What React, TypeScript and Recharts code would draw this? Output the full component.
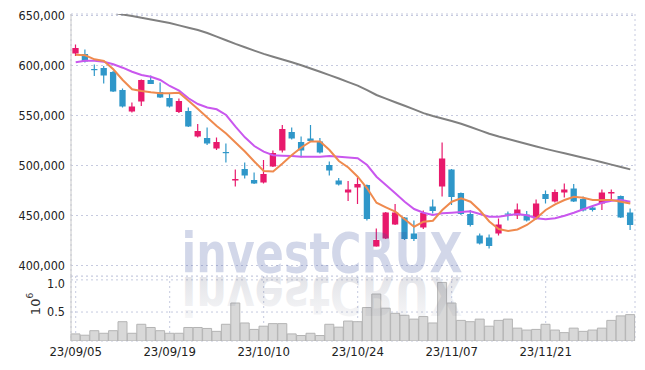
import React from 'react';
import { ComposedChart, Bar, Line, XAxis, YAxis, CartesianGrid } from 'recharts';

const dates = [
  '23/09/05', '23/09/06', '23/09/07', '23/09/08', '23/09/11', '23/09/12', '23/09/13', '23/09/14', '23/09/15', '23/09/18',
  '23/09/19', '23/09/20', '23/09/21', '23/09/22', '23/09/25', '23/09/26', '23/09/27', '23/10/04', '23/10/05', '23/10/06',
  '23/10/10', '23/10/11', '23/10/12', '23/10/13', '23/10/16', '23/10/17', '23/10/18', '23/10/19', '23/10/20', '23/10/23',
  '23/10/24', '23/10/25', '23/10/26', '23/10/27', '23/10/30', '23/10/31', '23/11/01', '23/11/02', '23/11/03', '23/11/06',
  '23/11/07', '23/11/08', '23/11/09', '23/11/10', '23/11/13', '23/11/14', '23/11/15', '23/11/16', '23/11/17', '23/11/20',
  '23/11/21', '23/11/22', '23/11/23', '23/11/24', '23/11/27', '23/11/28', '23/11/29', '23/11/30', '23/12/01', '23/12/04',
];

const opens = [
  612000, 611500, 596500, 597500, 593500, 575500, 554000, 564000, 585500, 573500,
  567500, 553500, 554500, 529000, 527500, 517000, 513500, 485000, 496500, 485500,
  483000, 499000, 515000, 533500, 523500, 527000, 524000, 500500, 485000, 473000,
  478000, 480500, 419000, 427000, 441000, 448000, 432000, 438000, 459000, 479000,
  496000, 472500, 451500, 430000, 428000, 432000, 452000, 450000, 451000, 447000,
  471500, 464000, 473000, 477000, 466500, 458000, 462000, 472000, 469500, 453000,
];
const highs = [
  621000, 616000, 601000, 599500, 594500, 577000, 563000, 586000, 590000, 583000,
  571500, 567000, 558000, 541500, 538000, 528000, 522000, 496000, 503000, 493000,
  505500, 515000, 540500, 538000, 529000, 540500, 527500, 504000, 487500, 484500,
  488000, 481000, 437000, 453500, 461500, 448500, 445000, 455000, 466000, 523000,
  496500, 473000, 455500, 432000, 431000, 447000, 454000, 462000, 454500, 466000,
  475000, 476000, 482000, 481500, 469000, 460500, 476000, 476000, 470000, 457000,
];
const lows = [
  609500, 603000, 589500, 582000, 573500, 558000, 553000, 559500, 581500, 567500,
  558000, 552500, 538500, 528000, 520500, 515500, 503000, 479000, 487000, 481500,
  482000, 498500, 513000, 526000, 508000, 524000, 512000, 490000, 480000, 464500,
  461500, 445000, 419000, 426500, 440500, 425500, 424500, 436500, 452000, 469000,
  460500, 450500, 439000, 421000, 417000, 430000, 445000, 446500, 444000, 446000,
  462000, 463000, 468000, 463500, 454000, 454000, 455500, 465500, 447500, 435500,
];
const closes = [
  617500, 604000, 596000, 590000, 574000, 559000, 559000, 585500, 581500, 568000,
  559000, 564500, 539000, 534500, 522000, 523500, 513000, 486500, 490000, 482000,
  491500, 512500, 536500, 527000, 515000, 524500, 513000, 495000, 481000, 476000,
  481500, 446500, 425500, 453000, 453000, 426500, 426500, 452500, 454500, 507000,
  468500, 451500, 440500, 422000, 419500, 441000, 451000, 456000, 445000, 462000,
  466500, 473500, 476000, 464000, 455000, 455500, 473000, 473500, 448000, 440500,
];

const ma5 = [
  610800, 610200, 606200, 604500, 596200, 585500, 576200, 574500, 573200, 572200,
  572200, 572800, 564800, 556500, 548000, 539500, 532000, 523000, 514000, 504000,
  494500, 494000, 502000, 510500, 518000, 524000, 524000, 515500, 504500, 498000,
  488800, 477200, 462800, 458200, 453800, 446200, 438800, 443800, 444800, 455500,
  463800, 467200, 463800, 455000, 444000, 436500, 434500, 436000, 440500, 447200,
  455500, 461200, 465500, 468800, 467800, 465500, 465500, 465500, 463800, 462000,
];
const ma20 = [
  603200, 604800, 604800, 603800, 601200, 597800, 593800, 590500, 588800, 585500,
  579500, 574800, 567200, 561500, 558000, 556200, 550500, 538800, 528200, 519500,
  513800, 510200, 509800, 509500, 508800, 508800, 508800, 509500, 508800, 508000,
  507200, 500500, 488800, 480500, 472200, 463800, 456500, 452800, 450500, 452200,
  452800, 453500, 454200, 451500, 448800, 448800, 450200, 451500, 450200, 447200,
  446200, 447200, 449800, 452800, 456200, 459500, 462800, 464800, 465500, 463800,
];
const ma60 = [
  659600, 657900, 656200, 654500, 652800, 651100, 649400, 647700, 646000, 644300,
  642500, 640100, 637800, 635500, 632500, 628900, 625200, 621600, 618300, 614900,
  611600, 608800, 606000, 603200, 600300, 597000, 593700, 590400, 587000, 583400,
  579900, 575400, 570500, 566900, 563300, 559700, 556100, 552400, 549500, 547000,
  544500, 541800, 538500, 535100, 531800, 529000, 526500, 524000, 521500, 519000,
  516600, 514400, 512200, 510000, 507800, 505600, 503200, 500900, 498500, 496100,
];

// volume in millions of shares
const volumes = [
  0.16, 0.14, 0.21, 0.17, 0.21, 0.35, 0.17, 0.31, 0.26, 0.21,
  0.17, 0.17, 0.26, 0.26, 0.245, 0.2, 0.31, 0.64, 0.33, 0.23,
  0.28, 0.32, 0.32, 0.16, 0.135, 0.17, 0.135, 0.31, 0.265, 0.36,
  0.35, 0.57, 0.78, 0.56, 0.48, 0.45, 0.39, 0.43, 0.33, 0.96,
  0.64, 0.37, 0.35, 0.39, 0.28, 0.37, 0.39, 0.25, 0.22, 0.23,
  0.31, 0.22, 0.18, 0.25, 0.2, 0.22, 0.25, 0.37, 0.44, 0.46,
];

const priceTicks = [400000, 450000, 500000, 550000, 600000, 650000];
const volumeTicks = [0.5, 1.0];
const dateTicks = ['23/09/05', '23/09/19', '23/10/10', '23/10/24', '23/11/07', '23/11/21'];

const rows = dates.map((date, i) => ({
  date,
  open: opens[i],
  high: highs[i],
  low: lows[i],
  close: closes[i],
  ma5: ma5[i],
  ma20: ma20[i],
  ma60: ma60[i],
  volume: volumes[i],
}));

const RED = '#e8196c';
const BLUE = '#2f97c9';
const GRID = '#c6cadf';
const BORDER = '#c8c8c8';
const FONT = "'DejaVu Sans Condensed', 'DejaVu Sans', sans-serif";
const tickStyle = { fontSize: 12.5, fill: '#222', fontFamily: FONT };
const WM_FONT = "'DejaVu Sans', 'Liberation Sans', sans-serif";

const Candle = (props: any) => {
  const { x, y, width, height, payload } = props;
  if (!payload || x == null) return null;
  const { open, close, high, low } = payload;
  const up = close > open;
  const color = up ? RED : BLUE;
  const top = Math.min(y, y + height);
  const h = Math.abs(height);
  const range = high - low;
  const pix = (v: number) => (range === 0 ? top : top + ((high - v) / range) * h);
  const bodyTop = pix(Math.max(open, close));
  const bodyBot = pix(Math.min(open, close));
  const cx = x + width / 2;
  const bw = width * 0.7;
  return (
    <g>
      <line x1={cx} x2={cx} y1={top} y2={top + h} stroke={color} strokeWidth={1.2} />
      <rect x={cx - bw / 2} y={bodyTop} width={bw} height={Math.max(bodyBot - bodyTop, 1.2)} fill={color} />
    </g>
  );
};

export default function App() {
  return (
    <div style={{ position: 'absolute', left: 0, top: 0, width: 645, height: 370, background: '#fff' }}>
      <div style={{ position: 'absolute', left: 0, top: 0 }}>
        <ComposedChart
          width={645}
          height={277}
          data={rows}
          margin={{ top: 14, right: 10, left: 0, bottom: 1 }}
          barCategoryGap={0}
          barGap={0}
        >
          <CartesianGrid stroke={GRID} strokeDasharray="2 3" />
          <XAxis
            dataKey="date"
            ticks={dateTicks}
            height={0}
            tick={false}
            tickLine={false}
            axisLine={{ stroke: BORDER }}
          />
          <YAxis
            domain={[389500, 651500]}
            ticks={priceTicks}
            allowDataOverflow
            width={71}
            tickLine={false}
            tickSize={4}
            tickMargin={2}
            axisLine={{ stroke: BORDER }}
            tick={tickStyle}
            tickFormatter={(v: number) => v.toLocaleString('en-US')}
          />
          <YAxis yAxisId="right" orientation="right" width={0} tick={false} tickLine={false} axisLine={{ stroke: '#d6d6d6' }} />
          <Bar
            dataKey={(d: any) => [d.low, d.high]}
            shape={<Candle />}
            isAnimationActive={false}
          />
          <Line dataKey="ma60" stroke="#808080" strokeWidth={2} dot={false} activeDot={false} isAnimationActive={false} />
          <Line dataKey="ma20" stroke="#c957ee" strokeWidth={2} dot={false} activeDot={false} isAnimationActive={false} />
          <Line dataKey="ma5" stroke="#ef8a4e" strokeWidth={2} dot={false} activeDot={false} isAnimationActive={false} />
        </ComposedChart>
      </div>
      <div style={{ position: 'absolute', left: 0, top: 276 }}>
        <ComposedChart
          width={645}
          height={94}
          data={rows}
          margin={{ top: 0, right: 10, left: 0, bottom: 0 }}
          barCategoryGap={0}
          barGap={0}
        >
          <CartesianGrid stroke={GRID} strokeDasharray="2 3" />
          <XAxis
            dataKey="date"
            ticks={dateTicks}
            interval={0}
            height={29}
            tickLine={false}
            tickSize={3}
            tickMargin={3}
            axisLine={false}
            tick={{ ...tickStyle, fontSize: 13 }}
          />
          <YAxis
            domain={[0.05, 1.06]}
            ticks={volumeTicks}
            allowDataOverflow
            width={71}
            tickLine={false}
            tickSize={4}
            tickMargin={2}
            axisLine={{ stroke: BORDER }}
            tick={tickStyle}
            tickFormatter={(v: number) => v.toFixed(1)}
          />
          <Bar dataKey="volume" fill="#d8d8d8" stroke="#b4b4b4" strokeWidth={1} isAnimationActive={false} />
        </ComposedChart>
      </div>
      <svg width={645} height={370} style={{ position: 'absolute', left: 0, top: 0, pointerEvents: 'none' }}>
        <defs>
          <linearGradient id="reflFade" gradientUnits="userSpaceOnUse" x1="0" y1="272" x2="0" y2="228">
            <stop offset="0" stopColor="#505570" stopOpacity={0.16} />
            <stop offset="1" stopColor="#505570" stopOpacity={0.05} />
          </linearGradient>
          <clipPath id="volClip">
            <rect x={71} y={277} width={564} height={64} />
          </clipPath>
          <clipPath id="priceClip">
            <rect x={71} y={14} width={564} height={262} />
          </clipPath>
        </defs>
        <g clipPath="url(#priceClip)">
          <text
            x={322}
            y={272}
            textAnchor="middle"
            fontFamily={WM_FONT}
            fontWeight="bold"
            fontSize={55}
            textLength={281}
            lengthAdjust="spacingAndGlyphs"
            fill="rgb(60,80,160)"
            fillOpacity={0.23}
          >
            investCRUX
          </text>
        </g>
        <g clipPath="url(#volClip)">
          <g transform="translate(0,548) scale(1,-1)">
            <text
              x={322}
              y={272}
              textAnchor="middle"
              fontFamily={WM_FONT}
              fontWeight="bold"
              fontSize={55}
              textLength={281}
              lengthAdjust="spacingAndGlyphs"
              fill="url(#reflFade)"
            >
              investCRUX
            </text>
          </g>
        </g>
        <text
          x={35}
          y={304}
          transform="rotate(-90 35 304)"
          textAnchor="middle"
          dominantBaseline="central"
          fontFamily="'DejaVu Sans', sans-serif"
          fontSize={13}
          fill="#333"
        >
          10<tspan dy={-5} fontSize={9}>6</tspan>
        </text>
      </svg>
    </div>
  );
}
